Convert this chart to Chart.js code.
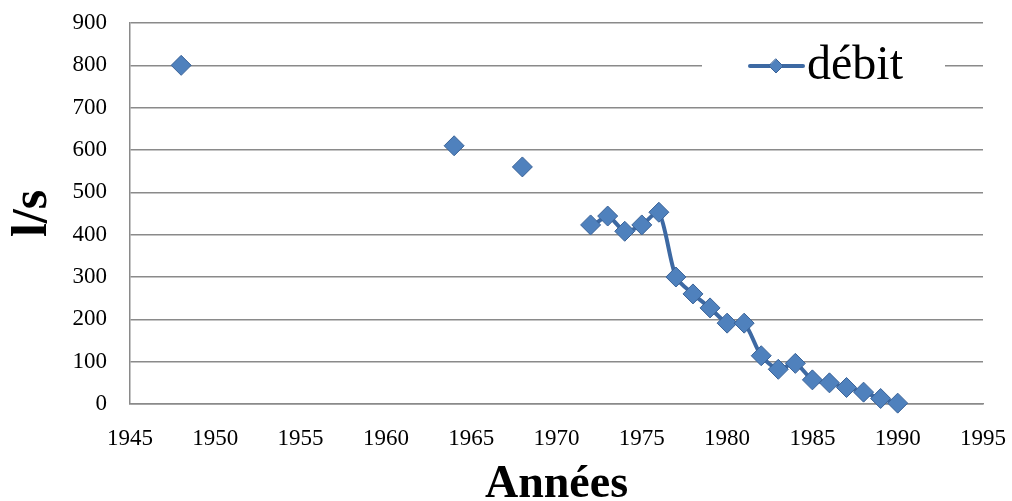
<!DOCTYPE html>
<html>
<head>
<meta charset="utf-8">
<script src="https://cdn.jsdelivr.net/npm/chart.js@4/dist/chart.umd.min.js"></script>
<style>
  html, body { margin: 0; padding: 0; background: #fff; }
  #wrap { width: 1012px; height: 501px; }
</style>
</head>
<body>
<div id="wrap"><canvas id="chartDebit"></canvas></div>
<script>
// données
const annees = [1948, 1964, 1968, 1972, 1973, 1974, 1975, 1976, 1977, 1978, 1979,
                1980, 1981, 1982, 1983, 1984, 1985, 1986, 1987, 1988, 1989, 1990];
const debit = [800, 610, 560, 423, 444, 408, 423, 453, 300, 260, 227,
               191, 191, 114, 82, 96, 57, 50, 39, 28, 13, 2];
const serieLabel = 'débit';
const titreX = 'Années';
const titreY = 'l/s';

const police = "'Liberation Serif', 'DejaVu Serif', serif";
const bleu = '#3d69a3';
const bleuPoint = '#4f81bd';
const gris = '#8a8a8a';

let points = annees.map((a, i) => ({ x: a, y: debit[i] }));

// legende dessinee dans la zone du graphique (comme dans Excel)
const legendeExcel = {
    id: 'legendeExcel',
    afterDatasetsDraw(chart) {
        const ctx = chart.ctx;
        ctx.save();
        ctx.fillStyle = '#fff';
        ctx.fillRect(702, 50, 243, 34);
        ctx.strokeStyle = bleu;
        ctx.lineWidth = 4;
        ctx.lineCap = 'round';
        ctx.beginPath();
        ctx.moveTo(750, 66);
        ctx.lineTo(803, 66);
        ctx.stroke();
        ctx.fillStyle = bleuPoint;
        ctx.strokeStyle = '#3a6297';
        ctx.lineWidth = 1;
        ctx.beginPath();
        ctx.moveTo(776, 59);
        ctx.lineTo(783, 66);
        ctx.lineTo(776, 73);
        ctx.lineTo(769, 66);
        ctx.closePath();
        ctx.fill();
        ctx.stroke();
        ctx.fillStyle = '#000';
        ctx.font = "48px " + police;
        ctx.textBaseline = 'alphabetic';
        ctx.textAlign = 'left';
        ctx.fillText(serieLabel, 807, 79);
        ctx.restore();
    }
};

var ctx = document.getElementById('chartDebit').getContext('2d');
var debitChart = new Chart(ctx, {
    type: 'line',
    data: {
        datasets: [{
            label: serieLabel,
            data: points,
            borderColor: bleu,
            borderWidth: 4,
            backgroundColor: bleuPoint,
            pointStyle: 'rectRot',
            pointRadius: 10,
            pointHoverRadius: 10,
            pointBackgroundColor: bleuPoint,
            pointBorderColor: '#3a6297',
            pointBorderWidth: 1,
            tension: 0.25,
            spanGaps: 1,
            clip: false,
            fill: false
        }]
    },
    plugins: [legendeExcel],
    options: {
        responsive: true,
        maintainAspectRatio: false,
        animation: false,
        layout: { padding: { top: 23, right: 29, left: 0, bottom: 0 } },
        plugins: {
            legend: { display: false },
            tooltip: { enabled: false }
        },
        scales: {
            x: {
                type: 'linear',
                min: 1945,
                max: 1995,
                afterFit: (scale) => { scale.height = 97; },
                ticks: {
                    stepSize: 5,
                    padding: 0,
                    color: '#000',
                    font: { family: police, size: 23 },
                    callback: (v) => String(v)
                },
                // traits invisibles : servent juste a decaler les etiquettes
                grid: { display: false, drawTicks: true, tickLength: 21, tickColor: 'rgba(0,0,0,0)' },
                border: { display: true, color: gris, width: 1.5 },
                title: {
                    display: true,
                    text: titreX,
                    color: '#000',
                    font: { family: police, size: 46, weight: 'bold', lineHeight: 0.7 },
                    padding: { top: 0, bottom: 0 }
                }
            },
            y: {
                min: 0,
                max: 900,
                afterFit: (scale) => { scale.width = 130; },
                ticks: {
                    stepSize: 100,
                    padding: 0,
                    color: '#000',
                    font: { family: police, size: 23 }
                },
                grid: { color: gris, lineWidth: 1.5, drawTicks: true, tickLength: 23, tickColor: 'rgba(0,0,0,0)' },
                border: { display: true, color: gris, width: 1.5 },
                title: {
                    display: true,
                    text: titreY,
                    color: '#000',
                    font: { family: police, size: 50, weight: 'bold', lineHeight: 1 },
                    padding: { top: 8, bottom: 0 }
                }
            }
        }
    }
});
</script>
</body>
</html>
